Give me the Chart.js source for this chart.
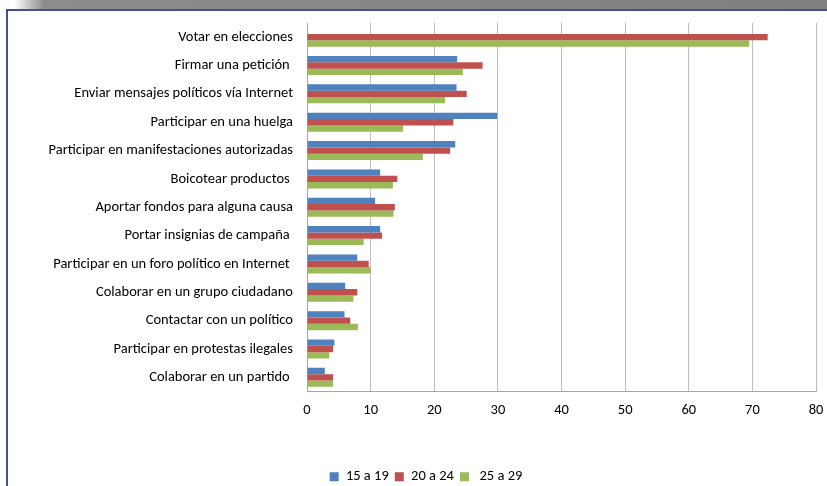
<!DOCTYPE html>
<html lang="es">
<head>
    <meta charset="UTF-8">
    <title>Participación política por edad</title>
    <script src="https://cdn.jsdelivr.net/npm/chart.js"></script>
    <style>
        body { margin: 0; background: #fff; }
        #wrap { position: relative; width: 827px; height: 486px; overflow: hidden; }
        #shade { position: absolute; left: 14px; top: 0; width: 813px; height: 9px;
                 background: linear-gradient(to right, #ffffff 0px, #8c8c8c 30px, #808080 100%); }
        #frame { position: absolute; left: 6px; top: 9px; width: 830px; height: 490px;
                 border-left: 2px solid #414f9c; border-top: 2px solid #414f9c; }
        canvas { position: absolute; left: 0; top: 0; }
    </style>
</head>
<body>
<div id="wrap">
    <div id="shade"></div>
    <div id="frame"></div>
    <canvas id="grafico" width="827" height="494"></canvas>
</div>

<script>
    // categorías (de arriba a abajo)
    const categorias = [
        'Votar en elecciones',
        'Firmar una petición ',
        'Enviar mensajes políticos vía Internet',
        'Participar en una huelga',
        'Participar en manifestaciones autorizadas',
        'Boicotear productos ',
        'Aportar fondos para alguna causa',
        'Portar insignias de campaña ',
        'Participar en un foro político en Internet ',
        'Colaborar en un grupo ciudadano',
        'Contactar con un político',
        'Participar en protestas ilegales',
        'Colaborar en un partido '
    ];

    // porcentajes por grupo de edad
    const edad15a19 = [null, 23.6, 23.5, 29.9, 23.3, 11.5, 10.7, 11.5, 7.9, 6.0, 5.9, 4.3, 2.8];
    const edad20a24 = [72.4, 27.6, 25.1, 23.0, 22.5, 14.2, 13.8, 11.8, 9.7, 7.9, 6.8, 4.1, 4.1];
    const edad25a29 = [69.5, 24.5, 21.7, 15.1, 18.2, 13.5, 13.6, 8.9, 10.0, 7.3, 8.0, 3.5, 4.1];

    const ejeX = [0, 10, 20, 30, 40, 50, 60, 70, 80];

    const fuente = "Carlito, Calibri, 'Open Sans', sans-serif";

    const ctx = document.getElementById('grafico').getContext('2d');
    new Chart(ctx, {
        type: 'bar',
        data: {
            labels: categorias,
            datasets: [
                { label: '15 a 19', data: edad15a19, backgroundColor: '#4f81bd' },
                { label: '20 a 24', data: edad20a24, backgroundColor: '#c0504d' },
                { label: ' 25 a 29', data: edad25a29, backgroundColor: '#9bbb59' }
            ]
        },
        options: {
            indexAxis: 'y',
            responsive: false,
            animation: false,
            categoryPercentage: 0.67,
            barPercentage: 1.0,
            layout: { padding: { left: 36, right: 11, top: 23, bottom: 0 } },
            plugins: {
                tooltip: { enabled: false },
                legend: {
                    position: 'bottom',
                    labels: {
                        boxWidth: 9,
                        boxHeight: 9,
                        padding: 6,
                        color: '#000',
                        font: { family: fuente, size: 14.5 }
                    }
                }
            },
            scales: {
                x: {
                    min: ejeX[0],
                    max: ejeX[ejeX.length - 1],
                    afterBuildTicks: (scale) => { scale.ticks = ejeX.map(v => ({ value: v })); },
                    grid: { color: '#bfbfbf', drawTicks: false },
                    border: { color: '#a6a6a6' },
                    ticks: { padding: 10, color: '#000', font: { family: fuente, size: 14.5 } },
                    afterFit: (scale) => { scale.height = 72; scale.paddingRight = 0; }
                },
                y: {
                    grid: { display: false, drawTicks: false },
                    border: { color: '#a6a6a6' },
                    ticks: { padding: 14, color: '#000', font: { family: fuente, size: 14.5 } },
                    afterFit: (scale) => { scale.width = 271; }
                }
            }
        }
    });
</script>
</body>
</html>
